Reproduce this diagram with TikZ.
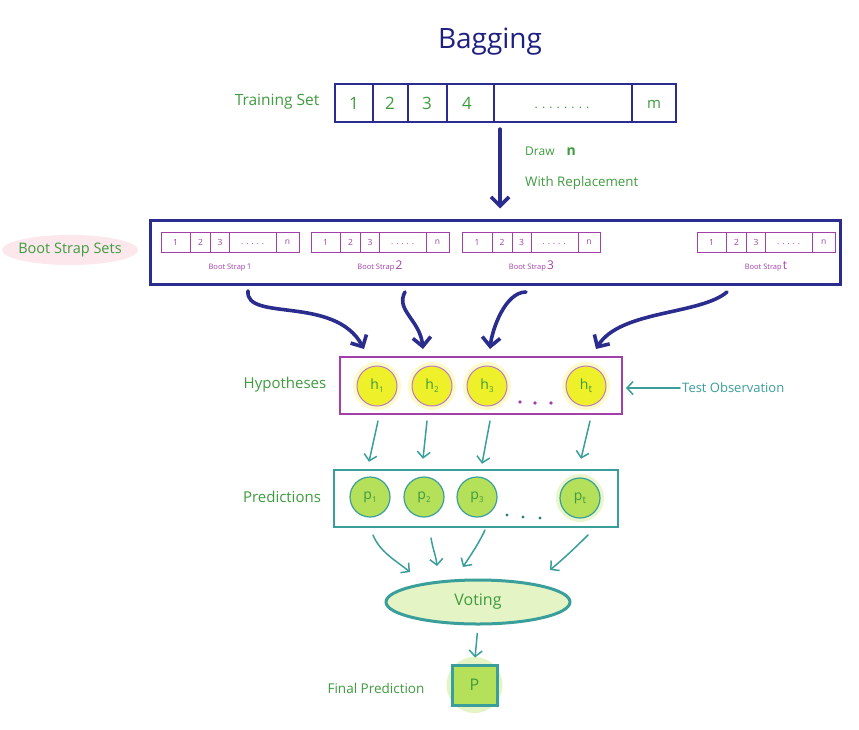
\documentclass[tikz,border=0pt]{standalone}
\usepackage{fontspec}
\setmainfont{Open Sans}
\usetikzlibrary{arrows.meta,shapes.geometric}
\definecolor{navy}{HTML}{2B2D8E}
\definecolor{titlenavy}{HTML}{1F1F80}
\definecolor{tgreen}{HTML}{3E9B3E}
\definecolor{purp}{HTML}{A23FA8}
\definecolor{tealc}{HTML}{3A9E9A}
\definecolor{hyel}{HTML}{EEF02A}
\definecolor{pgreen}{HTML}{B5E05A}
\definecolor{glowpink}{HTML}{F9DDE4}
\tikzset{
  lbl/.style={text=tgreen, font=\fontsize{14}{16}\selectfont, inner sep=0pt},
  navybox/.style={draw=navy, line width=2.2pt, inner sep=0pt},
  bsbox/.style={draw=purp, line width=0.8pt, minimum width=138pt, minimum height=20pt, inner sep=0pt},
  bslbl/.style={text=purp, font=\fontsize{7.5}{8}\selectfont, inner sep=0pt},
  cellnum/.style={text=tgreen, font=\fontsize{17}{19}\selectfont, inner sep=0pt},
  smallnum/.style={text=purp, font=\fontsize{8.5}{9}\selectfont, inner sep=0pt},
  hcirc/.style={circle, minimum size=40pt, fill=hyel, draw=purp!70, line width=1pt, inner sep=0pt, text=tgreen, font=\fontsize{14}{16}\selectfont},
  pcirc/.style={circle, minimum size=40pt, fill=pgreen, draw=tealc, line width=1.2pt, inner sep=0pt, text=tgreen, font=\fontsize{14}{16}\selectfont},
  bigarrow/.style={draw=navy, line width=3.6pt, line cap=round, -{Straight Barb[length=9pt,width=18pt,line width=3.6pt]}},
  tarrow/.style={draw=tealc, line width=1.5pt, line cap=round, -{Straight Barb[length=6pt,width=13pt,line width=1.5pt]}},
}
\begin{document}
\begin{tikzpicture}[x=1pt,y=-1pt]
\useasboundingbox (0,0) rectangle (859,729);

% title
\node[text=titlenavy, font=\fontsize{28}{32}\selectfont, inner sep=0pt] (title) at (490,42) {Bagging};

% training set
\node[lbl, font=\fontsize{15.5}{17}\selectfont] (trainlbl) at (277,102) {Training Set};
\node[navybox, minimum width=341pt, minimum height=38pt] (train) at (505.5,103) {};
\foreach \xx in {373,408,447,494,632}
  \draw[navy, line width=1.6pt] (\xx,84) -- (\xx,122);
\node[cellnum] (c1) at (354,103) {1};
\node[cellnum] (c2) at (390,103) {2};
\node[cellnum] (c3) at (427,103) {3};
\node[cellnum] (c4) at (467,103) {4};
\node[cellnum, font=\fontsize{12}{14}\selectfont] (cdots) at (562,108) {. . . . . . . .};
\node[cellnum, font=\fontsize{15}{17}\selectfont] (cm) at (654,104) {m};

% draw arrow
\coordinate (drawx) at (500,0);
\node[lbl, font=\fontsize{12}{14}\selectfont, anchor=west] (drawlbl) at (525,151) {Draw\quad{\fontsize{14}{16}\selectfont\bfseries n}};
\node[lbl, font=\fontsize{13.3}{15}\selectfont, anchor=west] (replbl) at (525,183) {With Replacement};

% bootstrap sets box
\node[draw=navy, line width=3pt, minimum width=690pt, minimum height=64pt, inner sep=0pt] (boot) at (495,252) {};
\draw[bigarrow, shorten <=6pt, shorten >=10pt] (train.south -| drawx) -- (boot.north -| drawx);

\fill[glowpink, opacity=0.7] (70,250) ellipse (68pt and 15pt);
\node[lbl, font=\fontsize{14.5}{16}\selectfont] (bootlbl) at (70,250) {Boot Strap Sets};

\foreach \i/\x/\lab in {1/230/{\fontsize{8}{9}\selectfont 1},2/380/{\fontsize{12}{13}\selectfont 2},3/531.5/{\fontsize{12}{13}\selectfont 3},4/766/{\fontsize{12}{13}\selectfont t}} {
  \node[bsbox] (bs\i) at (\x,242) {};
  \foreach \f in {30,50,69,116}
    \draw[purp, line width=0.6pt] ([xshift=\f pt]bs\i.north west) -- ([xshift=\f pt]bs\i.south west);
  \node[smallnum] at ([xshift=15pt]bs\i.west) {1};
  \node[smallnum] at ([xshift=40pt]bs\i.west) {2};
  \node[smallnum] at ([xshift=59.5pt]bs\i.west) {3};
  \node[smallnum] at ([xshift=92pt,yshift=-2pt]bs\i.west) {. . . . .};
  \node[smallnum] at ([xshift=127pt]bs\i.west) {n};
  \node[bslbl, anchor=base] (bsl\i) at (\x,269) {Boot Strap\,{\lab}};
}

% hypotheses
\node[lbl, font=\fontsize{15}{17}\selectfont] (hyplbl) at (285,385) {Hypotheses};
\node[draw=purp, line width=2pt, minimum width=282pt, minimum height=57pt, inner sep=0pt] (hyp) at (481,385.5) {};
\foreach \x in {377,432,487,586} {
  \fill[hyel, opacity=0.25] (\x,386) circle (24pt);
}
\node[hcirc] (h1) at (377,386) {h\raisebox{-3pt}{\fontsize{8}{9}\selectfont 1}};
\node[hcirc] (h2) at (432,386) {h\raisebox{-3pt}{\fontsize{8}{9}\selectfont 2}};
\node[hcirc] (h3) at (487,386) {h\raisebox{-3pt}{\fontsize{8}{9}\selectfont 3}};
\node[hcirc] (ht) at (586,386) {h\raisebox{-3pt}{\fontsize{10}{11}\selectfont t}};
\foreach \x/\y in {520/402,535/403,551/403}
  \fill[purp] (\x,\y) circle (1.8pt);

\node[text=tealc, font=\fontsize{13}{15}\selectfont, inner sep=0pt, anchor=west] (test) at (682,388) {Test Observation};
\draw[tarrow, shorten <=2pt, shorten >=3pt] (test.west) -- (hyp.east |- test.west);

% curved bootstrap arrows
\coordinate (b1) at (248,291);
\coordinate (b2) at (405,292);
\coordinate (b3) at (526,292);
\coordinate (b4) at (727,292);
\draw[bigarrow] (b1) .. controls (245,322) and (335,295) .. (364,349);
\draw[bigarrow] (b2) .. controls (395,310) and (420,320) .. (423,349);
\draw[bigarrow] (b3) .. controls (505,292) and (492,330) .. (490,349);
\draw[bigarrow] (b4) .. controls (700,315) and (620,310) .. (596,349);

% predictions
\node[lbl, font=\fontsize{15}{17}\selectfont] (predlbl) at (282,497) {Predictions};
\node[draw=tealc, line width=2.5pt, minimum width=284pt, minimum height=57pt, inner sep=0pt] (pred) at (476,498.5) {};
\fill[pgreen, opacity=0.3] (580,498) circle (24pt);
\node[pcirc] (p1) at (370,497) {p\raisebox{-3pt}{\fontsize{8}{9}\selectfont 1}};
\node[pcirc] (p2) at (424,497) {p\raisebox{-3pt}{\fontsize{8}{9}\selectfont 2}};
\node[pcirc] (p3) at (477,497) {p\raisebox{-3pt}{\fontsize{8}{9}\selectfont 3}};
\node[pcirc] (pt) at (580,498) {p\raisebox{-3pt}{\fontsize{10}{11}\selectfont t}};
\foreach \x/\y in {507/515,523/517,540/518}
  \fill[tealc!80!black] (\x,\y) circle (1.6pt);

% hyp -> pred arrows
\draw[tarrow] ([xshift=1pt,yshift=-6pt]hyp.south -| h1) -- ([xshift=-8pt,yshift=7pt]pred.north -| h1);
\draw[tarrow] ([xshift=-5pt,yshift=-6pt]hyp.south -| h2) -- ([xshift=-9pt,yshift=10pt]pred.north -| h2);
\draw[tarrow] ([xshift=3pt,yshift=-6pt]hyp.south -| h3) -- ([xshift=-5pt,yshift=5pt]pred.north -| h3);
\draw[tarrow] ([xshift=4pt,yshift=-6pt]hyp.south -| ht) -- ([xshift=-5pt,yshift=10pt]pred.north -| ht);

% voting
\node[ellipse, draw=tealc, line width=3pt, fill=pgreen!35, minimum width=184pt, minimum height=44pt, inner sep=0pt, text=tgreen, font=\fontsize{16}{18}\selectfont] (vote) at (478,602) {Voting};

\draw[tarrow] (373,535) .. controls (380,552) and (395,560) .. (410,572);
\draw[tarrow] (431,538) .. controls (433,550) and (436,556) .. (437,566);
\draw[tarrow] (485,530) .. controls (478,545) and (470,556) .. (463,567);
\draw[tarrow] (588,535) .. controls (575,548) and (562,560) .. (550,570);

% final prediction
\node[lbl, font=\fontsize{13.5}{15}\selectfont] (finallbl) at (376,688) {Final Prediction};
\fill[pgreen, opacity=0.35] (474.5,685) circle (28pt);
\node[draw=tealc, line width=3pt, fill=pgreen, minimum width=45pt, minimum height=40pt, inner sep=0pt, text=tgreen, font=\fontsize{16}{18}\selectfont] (final) at (474.5,685) {P};
\draw[tarrow, shorten <=8pt, shorten >=6pt] (vote.south) -- (final.north);
\end{tikzpicture}
\end{document}
